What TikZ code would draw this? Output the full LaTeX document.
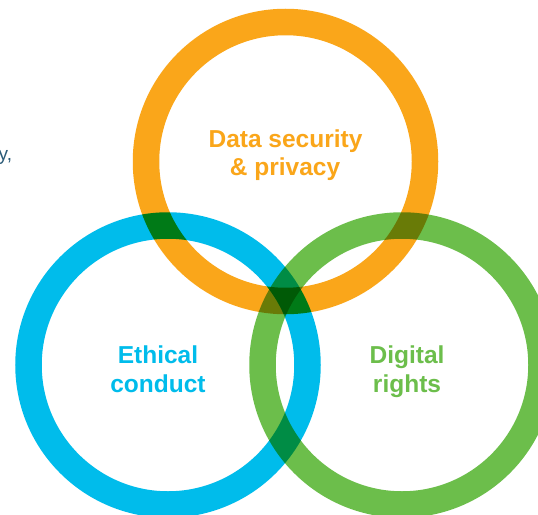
\documentclass[tikz,border=0pt]{standalone}
\usepackage{fontspec}
\setmainfont{Liberation Sans}
\definecolor{ringorange}{HTML}{FAA61A}
\definecolor{ringblue}{HTML}{00BCEB}
\definecolor{ringgreen}{HTML}{6CBE4B}
\definecolor{bodytext}{HTML}{2B5B78}
\begin{document}
\begin{tikzpicture}[x=1pt,y=-1pt,
  ring/.style={line width=26.5pt},
  label/.style={font=\fontsize{24.5}{28}\selectfont\bfseries, anchor=base, inner sep=0pt},
  bodylabel/.style={font=\fontsize{19}{22}\selectfont, text=bodytext, anchor=base west, inner sep=0pt}]
\useasboundingbox (0,0) rectangle (538,514);
\fill[white] (0,0) rectangle (538,514);
\node[bodylabel] (cut) at (-1.5,160) {y,};
\begin{scope}[blend group=multiply]
  \draw[ring, ringorange] (285.5,161.5) circle[radius=139.5];
  \draw[ring, ringblue] (168,365) circle[radius=139.5];
  \draw[ring, ringgreen] (402,365) circle[radius=139.5];
\end{scope}
\node[label, text=ringorange] (data1) at (285.5,147) {Data security};
\node[label, text=ringorange] (data2) at (285,175) {\& privacy};
\node[label, text=ringblue] (eth1) at (158,363) {Ethical};
\node[label, text=ringblue] (eth2) at (158,392) {conduct};
\node[label, text=ringgreen] (dig1) at (407,363) {Digital};
\node[label, text=ringgreen] (dig2) at (407,392) {rights};
\end{tikzpicture}
\end{document}
